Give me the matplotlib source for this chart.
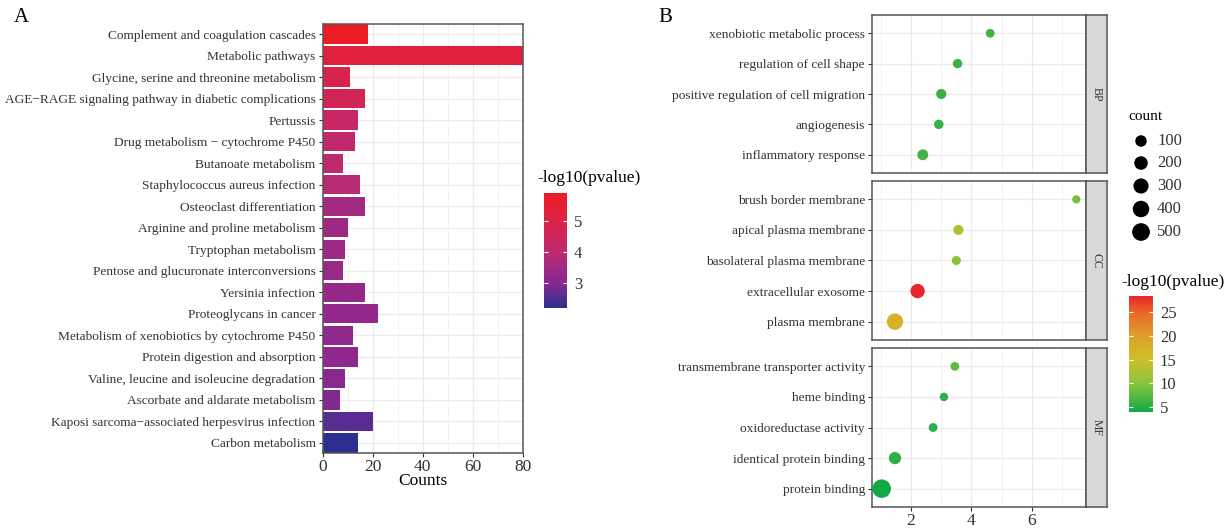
import numpy as np
import matplotlib
matplotlib.use("Agg")
import matplotlib.pyplot as plt
from matplotlib.colors import LinearSegmentedColormap, Normalize
from matplotlib.cm import ScalarMappable

plt.rcParams['font.family'] = ['Liberation Serif', 'DejaVu Serif']

# ---- panel A data (KEGG) ----
kegg_terms = ["Complement and coagulation cascades", "Metabolic pathways",
              "Glycine, serine and threonine metabolism",
              "AGE\u2212RAGE signaling pathway in diabetic complications",
              "Pertussis", "Drug metabolism \u2212 cytochrome P450",
              "Butanoate metabolism", "Staphylococcus aureus infection",
              "Osteoclast differentiation", "Arginine and proline metabolism",
              "Tryptophan metabolism", "Pentose and glucuronate interconversions",
              "Yersinia infection", "Proteoglycans in cancer",
              "Metabolism of xenobiotics by cytochrome P450",
              "Protein digestion and absorption",
              "Valine, leucine and isoleucine degradation",
              "Ascorbate and aldarate metabolism",
              "Kaposi sarcoma\u2212associated herpesvirus infection",
              "Carbon metabolism"]
kegg_counts = [18, 80, 11, 17, 14, 13, 8, 15, 17, 10, 9, 8, 17, 22, 12, 14, 9, 7, 20, 14]
kegg_logp = [5.9, 5.3, 4.9, 4.7, 4.3, 4.1, 4.0, 3.9, 3.5, 3.4,
             3.35, 3.3, 3.25, 3.2, 3.15, 3.1, 3.0, 2.95, 2.6, 2.2]

# ---- panel B data (GO) ----
go_groups = ["BP", "CC", "MF"]
go_terms = [["xenobiotic metabolic process", "regulation of cell shape",
             "positive regulation of cell migration", "angiogenesis",
             "inflammatory response"],
            ["brush border membrane", "apical plasma membrane",
             "basolateral plasma membrane", "extracellular exosome",
             "plasma membrane"],
            ["transmembrane transporter activity", "heme binding",
             "oxidoreductase activity", "identical protein binding",
             "protein binding"]]
go_x = [[4.62, 3.54, 3.0, 2.92, 2.39],
        [7.47, 3.57, 3.5, 2.22, 1.47],
        [3.45, 3.09, 2.73, 1.47, 1.03]]
go_count = [[22, 34, 53, 34, 77],
            [12, 53, 27, 244, 392],
            [20, 15, 22, 131, 580]]
go_logp = [[6.5, 6.0, 6.0, 6.0, 6.5],
           [9.0, 13.0, 10.0, 28.4, 17.0],
           [8.0, 5.5, 5.5, 5.5, 4.0]]
legend_counts = [100, 200, 300, 400, 500]

W, H = 1227, 530
fig = plt.figure(figsize=(W / 100, H / 100), dpi=100)


def px_axes(x0, y0, x1, y1):
    return fig.add_axes([x0 / W, 1 - y1 / H, (x1 - x0) / W, (y1 - y0) / H])


def dot_size(c):
    d = 6.5 + 0.5 * np.sqrt(np.asarray(c, dtype=float))
    return (d * 0.72) ** 2


frame_col = "#555555"
grid_col = "#EBEBEB"
tick_col = "#333333"

# ---------------- panel A ----------------
cmapA = LinearSegmentedColormap.from_list(
    "kegg", [(0.0, "#2B3090"), (0.22, "#8A2890"), (0.49, "#BE2A70"),
             (0.76, "#DC2249"), (1.0, "#EC1C24")])
normA = Normalize(2.2, 5.9)

axA = px_axes(322.5, 24, 523, 453)
y = np.arange(len(kegg_terms))
axA.barh(y, kegg_counts, height=0.9, color=cmapA(normA(kegg_logp)), zorder=2)
axA.set_xlim(0, 80)
axA.set_ylim(19.47, -0.47)
axA.set_yticks(y)
axA.set_yticklabels(kegg_terms, fontsize=9.6, color=tick_col)
axA.set_xticks([0, 20, 40, 60, 80])
axA.set_xticks([10, 30, 50, 70], minor=True)
axA.tick_params(axis='x', labelsize=12.5, colors=tick_col, length=3, pad=1)
axA.tick_params(axis='y', length=3, pad=2, colors=tick_col)
axA.tick_params(which='minor', length=0)
axA.grid(True, which='major', color=grid_col, linewidth=0.9, zorder=0)
axA.grid(True, which='minor', axis='x', color=grid_col, linewidth=0.5, zorder=0)
axA.set_axisbelow(True)
for s in axA.spines.values():
    s.set_color(frame_col)
    s.set_linewidth(1.1)
axA.set_xlabel("Counts", fontsize=12.5, labelpad=-1)
fig.text(14 / W, 1 - 18 / H, "A", fontsize=15, va='center', ha='left')

caxA = px_axes(544, 193, 567, 308)
cbA = fig.colorbar(ScalarMappable(norm=normA, cmap=cmapA), cax=caxA, ticks=[3, 4, 5])
cbA.outline.set_visible(False)
caxA.tick_params(direction='in', color='white', length=3, width=0.8,
                 labelsize=12, labelcolor=tick_col, pad=5)
caxA.yaxis.set_ticks_position('both')
fig.text(537 / W, 1 - 178 / H, "-log10(pvalue)", fontsize=12.5, va='center', ha='left')

# ---------------- panel B ----------------
cmapB = LinearSegmentedColormap.from_list(
    "go", [(0.0, "#12A84A"), (0.25, "#8CC43C"), (0.45, "#CDBF2A"),
           (0.65, "#DFA02A"), (0.85, "#E96A28"), (1.0, "#E8262A")])
normB = Normalize(4.0, 28.4)

panel_y = [(15, 173), (181, 340), (348, 507)]
for gi, (y0, y1) in enumerate(panel_y):
    ax = px_axes(872, y0, 1086, y1)
    ry = np.arange(len(go_terms[gi]))
    ax.scatter(go_x[gi], ry, s=dot_size(go_count[gi]),
               c=cmapB(normB(go_logp[gi])), linewidths=0, zorder=3)
    ax.set_xlim(0.71, 7.79)
    ax.set_ylim(4.6, -0.6)
    ax.set_yticks(ry)
    ax.set_yticklabels(go_terms[gi], fontsize=9.6, color=tick_col)
    ax.set_xticks([2, 4, 6])
    ax.set_xticks([1, 3, 5, 7], minor=True)
    ax.tick_params(which='minor', length=0)
    ax.tick_params(axis='y', length=3, pad=2, colors=tick_col)
    ax.tick_params(axis='x', length=3, pad=1, labelsize=12.5, colors=tick_col)
    if gi < 2:
        ax.tick_params(axis='x', labelbottom=False, length=0)
    ax.grid(True, which='major', color=grid_col, linewidth=0.9, zorder=0)
    ax.grid(True, which='minor', axis='x', color=grid_col, linewidth=0.5, zorder=0)
    ax.set_axisbelow(True)
    for s in ax.spines.values():
        s.set_color(frame_col)
        s.set_linewidth(1.1)

    sax = px_axes(1086, y0, 1107, y1)
    sax.set_facecolor("#D9D9D9")
    sax.set_xticks([])
    sax.set_yticks([])
    for s in sax.spines.values():
        s.set_color(frame_col)
        s.set_linewidth(1.1)
    sax.text(0.5, 0.5, go_groups[gi], rotation=-90, fontsize=8.5,
             color="#333333", ha='center', va='center', transform=sax.transAxes)

fig.text(658 / W, 1 - 18 / H, "B", fontsize=15, va='center', ha='left')

# size legend
lax = px_axes(1120, 100, 1227, 250)
lax.set_xlim(1120, 1227)
lax.set_ylim(250, 100)
lax.axis('off')
lax.text(1128, 116, "count", fontsize=11, va='center', ha='left')
leg_y = [141, 163, 186, 209, 232]
lax.scatter([1141] * len(legend_counts), leg_y, s=dot_size(legend_counts),
            color="black", linewidths=0, clip_on=False)
for yy, c in zip(leg_y, legend_counts):
    lax.text(1157, yy, str(c), fontsize=12, va='center', ha='left', color=tick_col)

caxB = px_axes(1129, 296, 1153, 412)
cbB = fig.colorbar(ScalarMappable(norm=normB, cmap=cmapB), cax=caxB,
                   ticks=[5, 10, 15, 20, 25])
cbB.outline.set_visible(False)
caxB.tick_params(direction='in', color='white', length=3, width=0.8,
                 labelsize=12, labelcolor=tick_col, pad=5)
caxB.yaxis.set_ticks_position('both')
fig.text(1121 / W, 1 - 282 / H, "-log10(pvalue)", fontsize=12.5, va='center', ha='left')

fig.savefig("out.png", dpi=100)
